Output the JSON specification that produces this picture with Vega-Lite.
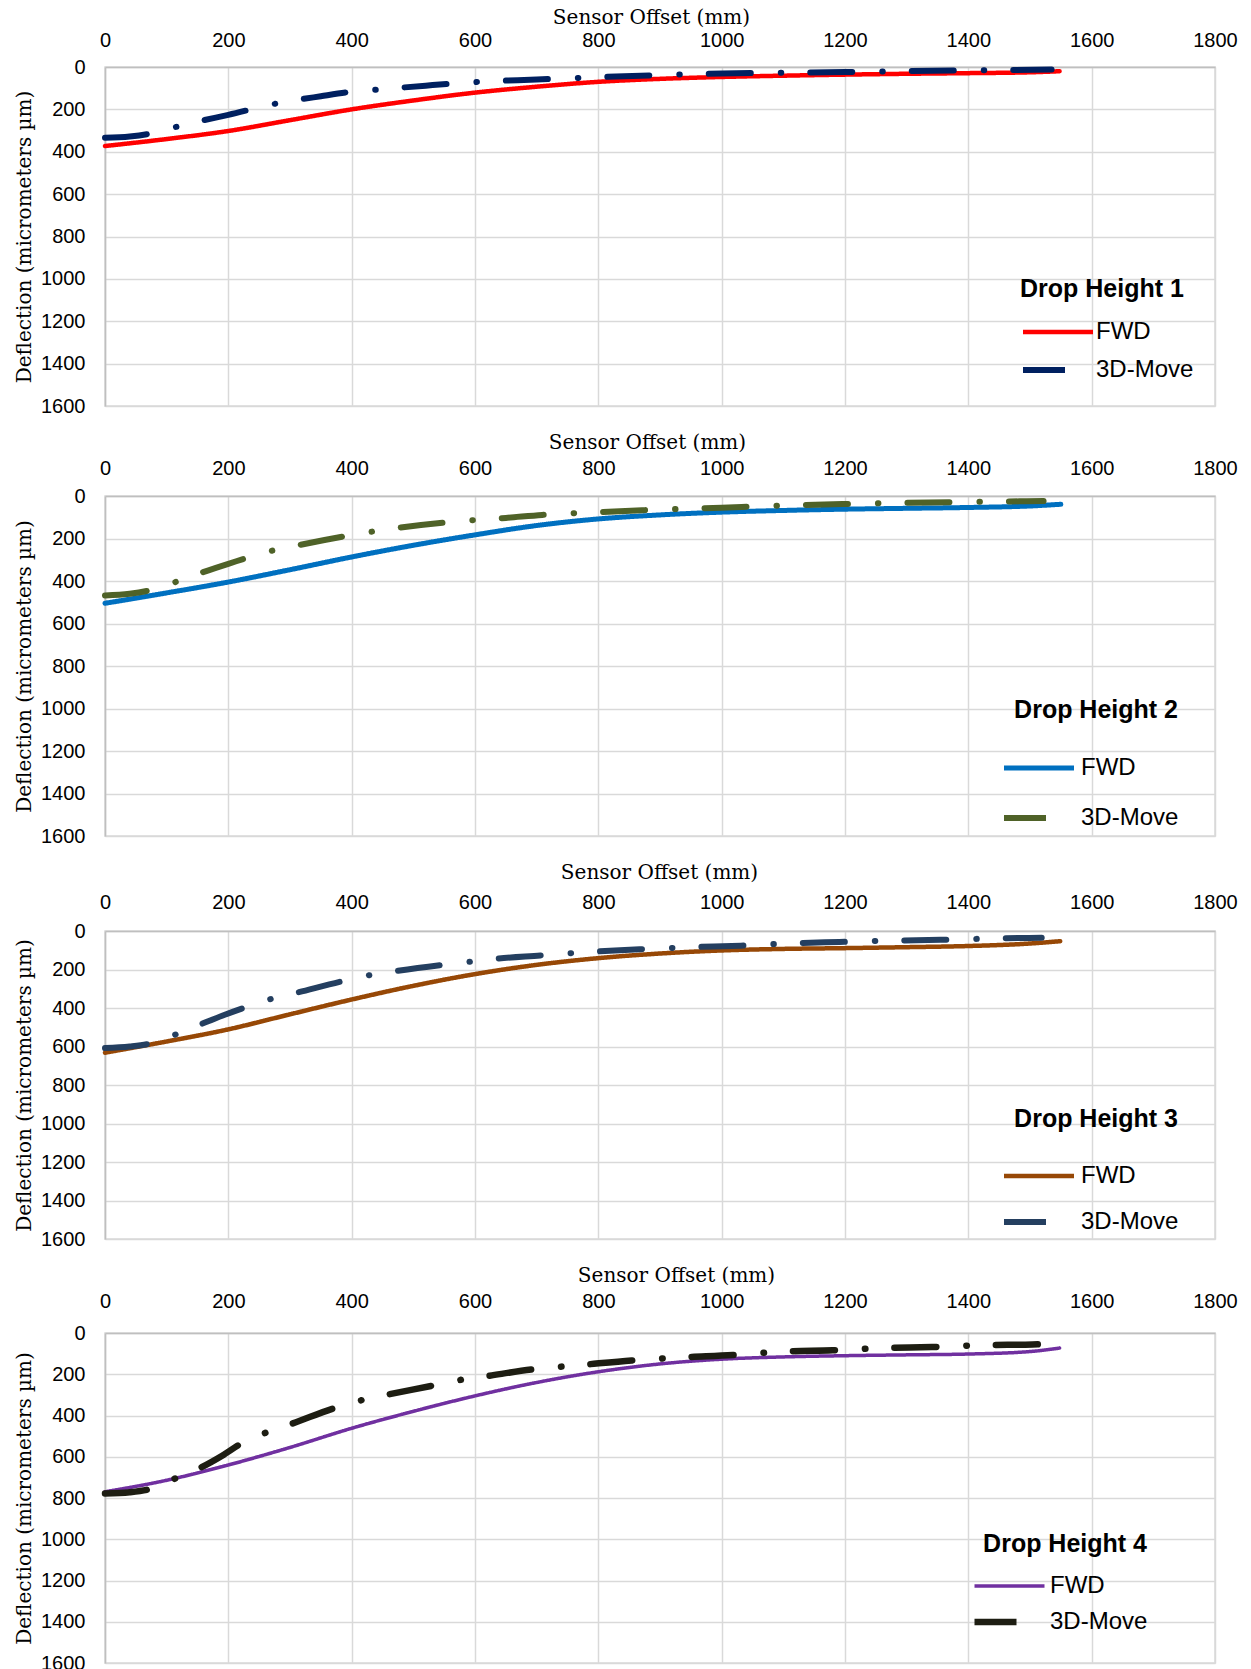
{
  "$schema": "https://vega.github.io/schema/vega-lite/v6.json",
  "background": "white",
  "padding": {"left": 13, "top": 6, "right": 5, "bottom": 0},
  "spacing": 14,
  "datasets": {
    "d": [
      {"panel": 1, "series": "FWD", "offset": 0, "deflection": 373},
      {"panel": 1, "series": "FWD", "offset": 100, "deflection": 340},
      {"panel": 1, "series": "FWD", "offset": 200, "deflection": 302},
      {"panel": 1, "series": "FWD", "offset": 300, "deflection": 251},
      {"panel": 1, "series": "FWD", "offset": 400, "deflection": 200},
      {"panel": 1, "series": "FWD", "offset": 500, "deflection": 158},
      {"panel": 1, "series": "FWD", "offset": 600, "deflection": 121},
      {"panel": 1, "series": "FWD", "offset": 700, "deflection": 93},
      {"panel": 1, "series": "FWD", "offset": 800, "deflection": 70},
      {"panel": 1, "series": "FWD", "offset": 900, "deflection": 56},
      {"panel": 1, "series": "FWD", "offset": 1000, "deflection": 47},
      {"panel": 1, "series": "FWD", "offset": 1100, "deflection": 41},
      {"panel": 1, "series": "FWD", "offset": 1200, "deflection": 36},
      {"panel": 1, "series": "FWD", "offset": 1300, "deflection": 32},
      {"panel": 1, "series": "FWD", "offset": 1400, "deflection": 29},
      {"panel": 1, "series": "FWD", "offset": 1500, "deflection": 25},
      {"panel": 1, "series": "FWD", "offset": 1548, "deflection": 20},
      {"panel": 1, "series": "3D-Move", "offset": 0, "deflection": 334},
      {"panel": 1, "series": "3D-Move", "offset": 40, "deflection": 328},
      {"panel": 1, "series": "3D-Move", "offset": 70, "deflection": 316},
      {"panel": 1, "series": "3D-Move", "offset": 100, "deflection": 294},
      {"panel": 1, "series": "3D-Move", "offset": 150, "deflection": 258},
      {"panel": 1, "series": "3D-Move", "offset": 200, "deflection": 226},
      {"panel": 1, "series": "3D-Move", "offset": 275, "deflection": 174},
      {"panel": 1, "series": "3D-Move", "offset": 350, "deflection": 138},
      {"panel": 1, "series": "3D-Move", "offset": 400, "deflection": 117},
      {"panel": 1, "series": "3D-Move", "offset": 450, "deflection": 105},
      {"panel": 1, "series": "3D-Move", "offset": 520, "deflection": 88},
      {"panel": 1, "series": "3D-Move", "offset": 600, "deflection": 71},
      {"panel": 1, "series": "3D-Move", "offset": 700, "deflection": 59},
      {"panel": 1, "series": "3D-Move", "offset": 800, "deflection": 48},
      {"panel": 1, "series": "3D-Move", "offset": 900, "deflection": 38},
      {"panel": 1, "series": "3D-Move", "offset": 1000, "deflection": 31},
      {"panel": 1, "series": "3D-Move", "offset": 1100, "deflection": 27},
      {"panel": 1, "series": "3D-Move", "offset": 1200, "deflection": 24},
      {"panel": 1, "series": "3D-Move", "offset": 1300, "deflection": 19},
      {"panel": 1, "series": "3D-Move", "offset": 1400, "deflection": 16},
      {"panel": 1, "series": "3D-Move", "offset": 1535, "deflection": 12},

      {"panel": 2, "series": "FWD", "offset": 0, "deflection": 505},
      {"panel": 2, "series": "FWD", "offset": 100, "deflection": 456},
      {"panel": 2, "series": "FWD", "offset": 200, "deflection": 405},
      {"panel": 2, "series": "FWD", "offset": 300, "deflection": 347},
      {"panel": 2, "series": "FWD", "offset": 400, "deflection": 287},
      {"panel": 2, "series": "FWD", "offset": 500, "deflection": 232},
      {"panel": 2, "series": "FWD", "offset": 600, "deflection": 183},
      {"panel": 2, "series": "FWD", "offset": 700, "deflection": 139},
      {"panel": 2, "series": "FWD", "offset": 800, "deflection": 108},
      {"panel": 2, "series": "FWD", "offset": 900, "deflection": 89},
      {"panel": 2, "series": "FWD", "offset": 1000, "deflection": 76},
      {"panel": 2, "series": "FWD", "offset": 1100, "deflection": 68},
      {"panel": 2, "series": "FWD", "offset": 1200, "deflection": 62},
      {"panel": 2, "series": "FWD", "offset": 1300, "deflection": 58},
      {"panel": 2, "series": "FWD", "offset": 1400, "deflection": 54},
      {"panel": 2, "series": "FWD", "offset": 1500, "deflection": 47},
      {"panel": 2, "series": "FWD", "offset": 1550, "deflection": 39},
      {"panel": 2, "series": "3D-Move", "offset": 0, "deflection": 468},
      {"panel": 2, "series": "3D-Move", "offset": 40, "deflection": 460},
      {"panel": 2, "series": "3D-Move", "offset": 75, "deflection": 442},
      {"panel": 2, "series": "3D-Move", "offset": 114, "deflection": 405},
      {"panel": 2, "series": "3D-Move", "offset": 155, "deflection": 362},
      {"panel": 2, "series": "3D-Move", "offset": 200, "deflection": 319},
      {"panel": 2, "series": "3D-Move", "offset": 270, "deflection": 258},
      {"panel": 2, "series": "3D-Move", "offset": 311, "deflection": 233},
      {"panel": 2, "series": "3D-Move", "offset": 388, "deflection": 190},
      {"panel": 2, "series": "3D-Move", "offset": 428, "deflection": 170},
      {"panel": 2, "series": "3D-Move", "offset": 472, "deflection": 151},
      {"panel": 2, "series": "3D-Move", "offset": 549, "deflection": 125},
      {"panel": 2, "series": "3D-Move", "offset": 591, "deflection": 115},
      {"panel": 2, "series": "3D-Move", "offset": 650, "deflection": 103},
      {"panel": 2, "series": "3D-Move", "offset": 709, "deflection": 89},
      {"panel": 2, "series": "3D-Move", "offset": 800, "deflection": 76},
      {"panel": 2, "series": "3D-Move", "offset": 871, "deflection": 67},
      {"panel": 2, "series": "3D-Move", "offset": 1000, "deflection": 55},
      {"panel": 2, "series": "3D-Move", "offset": 1076, "deflection": 47},
      {"panel": 2, "series": "3D-Move", "offset": 1196, "deflection": 38},
      {"panel": 2, "series": "3D-Move", "offset": 1280, "deflection": 33},
      {"panel": 2, "series": "3D-Move", "offset": 1400, "deflection": 28},
      {"panel": 2, "series": "3D-Move", "offset": 1522, "deflection": 24},

      {"panel": 3, "series": "FWD", "offset": 0, "deflection": 632},
      {"panel": 3, "series": "FWD", "offset": 100, "deflection": 574},
      {"panel": 3, "series": "FWD", "offset": 200, "deflection": 511},
      {"panel": 3, "series": "FWD", "offset": 300, "deflection": 433},
      {"panel": 3, "series": "FWD", "offset": 400, "deflection": 356},
      {"panel": 3, "series": "FWD", "offset": 500, "deflection": 285},
      {"panel": 3, "series": "FWD", "offset": 600, "deflection": 224},
      {"panel": 3, "series": "FWD", "offset": 700, "deflection": 176},
      {"panel": 3, "series": "FWD", "offset": 800, "deflection": 141},
      {"panel": 3, "series": "FWD", "offset": 900, "deflection": 117},
      {"panel": 3, "series": "FWD", "offset": 1000, "deflection": 101},
      {"panel": 3, "series": "FWD", "offset": 1100, "deflection": 93},
      {"panel": 3, "series": "FWD", "offset": 1200, "deflection": 89},
      {"panel": 3, "series": "FWD", "offset": 1300, "deflection": 84},
      {"panel": 3, "series": "FWD", "offset": 1400, "deflection": 78},
      {"panel": 3, "series": "FWD", "offset": 1500, "deflection": 65},
      {"panel": 3, "series": "FWD", "offset": 1549, "deflection": 53},
      {"panel": 3, "series": "3D-Move", "offset": 0, "deflection": 608},
      {"panel": 3, "series": "3D-Move", "offset": 40, "deflection": 600},
      {"panel": 3, "series": "3D-Move", "offset": 77, "deflection": 582},
      {"panel": 3, "series": "3D-Move", "offset": 115, "deflection": 537},
      {"panel": 3, "series": "3D-Move", "offset": 155, "deflection": 485},
      {"panel": 3, "series": "3D-Move", "offset": 190, "deflection": 440},
      {"panel": 3, "series": "3D-Move", "offset": 228, "deflection": 396},
      {"panel": 3, "series": "3D-Move", "offset": 268, "deflection": 354},
      {"panel": 3, "series": "3D-Move", "offset": 309, "deflection": 322},
      {"panel": 3, "series": "3D-Move", "offset": 386, "deflection": 260},
      {"panel": 3, "series": "3D-Move", "offset": 425, "deflection": 232},
      {"panel": 3, "series": "3D-Move", "offset": 468, "deflection": 210},
      {"panel": 3, "series": "3D-Move", "offset": 545, "deflection": 177},
      {"panel": 3, "series": "3D-Move", "offset": 586, "deflection": 162},
      {"panel": 3, "series": "3D-Move", "offset": 627, "deflection": 146},
      {"panel": 3, "series": "3D-Move", "offset": 706, "deflection": 127},
      {"panel": 3, "series": "3D-Move", "offset": 789, "deflection": 108},
      {"panel": 3, "series": "3D-Move", "offset": 867, "deflection": 95},
      {"panel": 3, "series": "3D-Move", "offset": 951, "deflection": 84},
      {"panel": 3, "series": "3D-Move", "offset": 1031, "deflection": 76},
      {"panel": 3, "series": "3D-Move", "offset": 1112, "deflection": 64},
      {"panel": 3, "series": "3D-Move", "offset": 1191, "deflection": 57},
      {"panel": 3, "series": "3D-Move", "offset": 1276, "deflection": 50},
      {"panel": 3, "series": "3D-Move", "offset": 1355, "deflection": 46},
      {"panel": 3, "series": "3D-Move", "offset": 1437, "deflection": 39},
      {"panel": 3, "series": "3D-Move", "offset": 1519, "deflection": 35},

      {"panel": 4, "series": "FWD", "offset": 0, "deflection": 770},
      {"panel": 4, "series": "FWD", "offset": 100, "deflection": 714},
      {"panel": 4, "series": "FWD", "offset": 200, "deflection": 640},
      {"panel": 4, "series": "FWD", "offset": 300, "deflection": 555},
      {"panel": 4, "series": "FWD", "offset": 400, "deflection": 462},
      {"panel": 4, "series": "FWD", "offset": 500, "deflection": 380},
      {"panel": 4, "series": "FWD", "offset": 600, "deflection": 305},
      {"panel": 4, "series": "FWD", "offset": 700, "deflection": 240},
      {"panel": 4, "series": "FWD", "offset": 800, "deflection": 188},
      {"panel": 4, "series": "FWD", "offset": 900, "deflection": 150},
      {"panel": 4, "series": "FWD", "offset": 1000, "deflection": 127},
      {"panel": 4, "series": "FWD", "offset": 1100, "deflection": 116},
      {"panel": 4, "series": "FWD", "offset": 1200, "deflection": 110},
      {"panel": 4, "series": "FWD", "offset": 1300, "deflection": 106},
      {"panel": 4, "series": "FWD", "offset": 1400, "deflection": 102},
      {"panel": 4, "series": "FWD", "offset": 1500, "deflection": 90},
      {"panel": 4, "series": "FWD", "offset": 1548, "deflection": 73},
      {"panel": 4, "series": "3D-Move", "offset": 0, "deflection": 778},
      {"panel": 4, "series": "3D-Move", "offset": 40, "deflection": 772},
      {"panel": 4, "series": "3D-Move", "offset": 78, "deflection": 753},
      {"panel": 4, "series": "3D-Move", "offset": 115, "deflection": 704},
      {"panel": 4, "series": "3D-Move", "offset": 155, "deflection": 653},
      {"panel": 4, "series": "3D-Move", "offset": 190, "deflection": 595},
      {"panel": 4, "series": "3D-Move", "offset": 222, "deflection": 534},
      {"panel": 4, "series": "3D-Move", "offset": 262, "deflection": 482},
      {"panel": 4, "series": "3D-Move", "offset": 303, "deflection": 440},
      {"panel": 4, "series": "3D-Move", "offset": 372, "deflection": 364},
      {"panel": 4, "series": "3D-Move", "offset": 413, "deflection": 328},
      {"panel": 4, "series": "3D-Move", "offset": 456, "deflection": 300},
      {"panel": 4, "series": "3D-Move", "offset": 533, "deflection": 254},
      {"panel": 4, "series": "3D-Move", "offset": 573, "deflection": 229},
      {"panel": 4, "series": "3D-Move", "offset": 615, "deflection": 211},
      {"panel": 4, "series": "3D-Move", "offset": 692, "deflection": 177},
      {"panel": 4, "series": "3D-Move", "offset": 776, "deflection": 154},
      {"panel": 4, "series": "3D-Move", "offset": 854, "deflection": 133},
      {"panel": 4, "series": "3D-Move", "offset": 938, "deflection": 118},
      {"panel": 4, "series": "3D-Move", "offset": 1018, "deflection": 107},
      {"panel": 4, "series": "3D-Move", "offset": 1101, "deflection": 90},
      {"panel": 4, "series": "3D-Move", "offset": 1180, "deflection": 84},
      {"panel": 4, "series": "3D-Move", "offset": 1262, "deflection": 73},
      {"panel": 4, "series": "3D-Move", "offset": 1341, "deflection": 68},
      {"panel": 4, "series": "3D-Move", "offset": 1425, "deflection": 59},
      {"panel": 4, "series": "3D-Move", "offset": 1504, "deflection": 56},
      {"panel": 4, "series": "3D-Move", "offset": 1545, "deflection": 49}
    ]
  },
  "vconcat": [
    {
      "width": 1110, "height": 339,
      "data": {"name": "d"},
      "transform": [{"filter": "datum.panel == 1"}],
      "mark": {"type": "line", "interpolate": "monotone", "strokeCap": "round", "strokeJoin": "round"},
      "encoding": {
        "x": {"field": "offset", "type": "quantitative", "scale": {"domain": [0, 1800], "nice": false},
              "axis": {"orient": "top", "title": "Sensor Offset (mm)", "values": [0,200,400,600,800,1000,1200,1400,1600,1800], "titleX": 546, "labelPadding": 17, "titlePadding": 3}},
        "y": {"field": "deflection", "type": "quantitative", "scale": {"domain": [0, 1600], "reverse": true, "nice": false},
              "axis": {"title": "Deflection (micrometers µm)", "values": [0,200,400,600,800,1000,1200,1400,1600]}},
        "color": {"field": "series", "type": "nominal", "scale": {"domain": ["FWD", "3D-Move"], "range": ["#ff0000", "#002060"]},
                  "legend": {"title": "Drop Height 1", "orient": "none", "legendX": 915, "legendY": 210, "titlePadding": 18, "rowPadding": 14, "labelOffset": 0}},
        "strokeDash": {"field": "series", "type": "nominal", "scale": {"domain": ["FWD", "3D-Move"], "range": [[1, 0], [42, 30, 0.5, 29]]},
                  "legend": {"title": "Drop Height 1", "orient": "none", "legendX": 915, "legendY": 210, "titlePadding": 18, "rowPadding": 14, "labelOffset": 0}},
        "strokeWidth": {"field": "series", "type": "nominal", "scale": {"domain": ["FWD", "3D-Move"], "range": [4.5, 6]},
                  "legend": {"title": "Drop Height 1", "orient": "none", "legendX": 915, "legendY": 210, "titlePadding": 18, "rowPadding": 14, "labelOffset": 0}}
      }
    },
    {
      "width": 1110, "height": 340,
      "data": {"name": "d"},
      "transform": [{"filter": "datum.panel == 2"}],
      "mark": {"type": "line", "interpolate": "monotone", "strokeCap": "round", "strokeJoin": "round"},
      "encoding": {
        "x": {"field": "offset", "type": "quantitative", "scale": {"domain": [0, 1800], "nice": false},
              "axis": {"orient": "top", "title": "Sensor Offset (mm)", "values": [0,200,400,600,800,1000,1200,1400,1600,1800], "titleX": 542, "labelPadding": 18, "titlePadding": 6}},
        "y": {"field": "deflection", "type": "quantitative", "scale": {"domain": [0, 1600], "reverse": true, "nice": false},
              "axis": {"title": "Deflection (micrometers µm)", "values": [0,200,400,600,800,1000,1200,1400,1600]}},
        "color": {"field": "series", "type": "nominal", "scale": {"domain": ["FWD", "3D-Move"], "range": ["#0070c0", "#4f6228"]},
                  "legend": {"title": "Drop Height 2", "titleAnchor": "end", "orient": "none", "legendX": 896, "legendY": 202, "titlePadding": 33, "rowPadding": 26, "labelOffset": 4}},
        "strokeDash": {"field": "series", "type": "nominal", "scale": {"domain": ["FWD", "3D-Move"], "range": [[1, 0], [42, 30, 0.5, 29]]},
                  "legend": {"title": "Drop Height 2", "titleAnchor": "end", "orient": "none", "legendX": 896, "legendY": 202, "titlePadding": 33, "rowPadding": 26, "labelOffset": 4}},
        "strokeWidth": {"field": "series", "type": "nominal", "scale": {"domain": ["FWD", "3D-Move"], "range": [5, 6]},
                  "legend": {"title": "Drop Height 2", "titleAnchor": "end", "orient": "none", "legendX": 896, "legendY": 202, "titlePadding": 33, "rowPadding": 26, "labelOffset": 4}}
      }
    },
    {
      "width": 1110, "height": 308,
      "data": {"name": "d"},
      "transform": [{"filter": "datum.panel == 3"}],
      "mark": {"type": "line", "interpolate": "monotone", "strokeCap": "round", "strokeJoin": "round"},
      "encoding": {
        "x": {"field": "offset", "type": "quantitative", "scale": {"domain": [0, 1800], "nice": false},
              "axis": {"orient": "top", "title": "Sensor Offset (mm)", "values": [0,200,400,600,800,1000,1200,1400,1600,1800], "titleX": 554, "labelPadding": 19, "titlePadding": 10}},
        "y": {"field": "deflection", "type": "quantitative", "scale": {"domain": [0, 1600], "reverse": true, "nice": false},
              "axis": {"title": "Deflection (micrometers µm)", "values": [0,200,400,600,800,1000,1200,1400,1600]}},
        "color": {"field": "series", "type": "nominal", "scale": {"domain": ["FWD", "3D-Move"], "range": ["#974806", "#243f60"]},
                  "legend": {"title": "Drop Height 3", "titleAnchor": "end", "orient": "none", "legendX": 896, "legendY": 176, "titlePadding": 32, "rowPadding": 22, "labelOffset": 4}},
        "strokeDash": {"field": "series", "type": "nominal", "scale": {"domain": ["FWD", "3D-Move"], "range": [[1, 0], [42, 30, 0.5, 29]]},
                  "legend": {"title": "Drop Height 3", "titleAnchor": "end", "orient": "none", "legendX": 896, "legendY": 176, "titlePadding": 32, "rowPadding": 22, "labelOffset": 4}},
        "strokeWidth": {"field": "series", "type": "nominal", "scale": {"domain": ["FWD", "3D-Move"], "range": [4.5, 6]},
                  "legend": {"title": "Drop Height 3", "titleAnchor": "end", "orient": "none", "legendX": 896, "legendY": 176, "titlePadding": 32, "rowPadding": 22, "labelOffset": 4}}
      }
    },
    {
      "width": 1110, "height": 330,
      "data": {"name": "d"},
      "transform": [{"filter": "datum.panel == 4"}],
      "mark": {"type": "line", "interpolate": "monotone", "strokeCap": "round", "strokeJoin": "round"},
      "encoding": {
        "x": {"field": "offset", "type": "quantitative", "scale": {"domain": [0, 1800], "nice": false},
              "axis": {"orient": "top", "title": "Sensor Offset (mm)", "values": [0,200,400,600,800,1000,1200,1400,1600,1800], "titleX": 571, "labelPadding": 22, "titlePadding": 6}},
        "y": {"field": "deflection", "type": "quantitative", "scale": {"domain": [0, 1600], "reverse": true, "nice": false},
              "axis": {"title": "Deflection (micrometers µm)", "values": [0,200,400,600,800,1000,1200,1400,1600]}},
        "color": {"field": "series", "type": "nominal", "scale": {"domain": ["FWD", "3D-Move"], "range": ["#7030a0", "#1d1d12"]},
                  "legend": {"title": "Drop Height 4", "titleAnchor": "end", "orient": "none", "legendX": 866, "legendY": 199, "titlePadding": 17, "rowPadding": 12, "labelOffset": 2}},
        "strokeDash": {"field": "series", "type": "nominal", "scale": {"domain": ["FWD", "3D-Move"], "range": [[1, 0], [42, 30, 0.5, 29]]},
                  "legend": {"title": "Drop Height 4", "titleAnchor": "end", "orient": "none", "legendX": 866, "legendY": 199, "titlePadding": 17, "rowPadding": 12, "labelOffset": 2}},
        "strokeWidth": {"field": "series", "type": "nominal", "scale": {"domain": ["FWD", "3D-Move"], "range": [3.5, 6.5]},
                  "legend": {"title": "Drop Height 4", "titleAnchor": "end", "orient": "none", "legendX": 866, "legendY": 199, "titlePadding": 17, "rowPadding": 12, "labelOffset": 2}}
      }
    }
  ],
  "resolve": {
    "scale": {"color": "independent", "strokeDash": "independent", "strokeWidth": "independent"},
    "legend": {"color": "independent", "strokeDash": "independent", "strokeWidth": "independent"}
  },
  "config": {
    "view": {"stroke": "#d9d9d9", "strokeWidth": 1.5},
    "axis": {
      "grid": true, "gridColor": "#d9d9d9", "gridWidth": 1.5,
      "domainColor": "#bfbfbf", "domainWidth": 1.5,
      "ticks": false, "tickSize": 0, "format": "d",
      "labelFont": "Liberation Sans", "labelFontSize": 20, "labelColor": "#000000",
      "titleFont": "DejaVu Serif", "titleFontSize": 20, "titleFontWeight": "normal", "titleColor": "#000000"
    },
    "axisX": {"labelFlush": false, "labelOverlap": false},
    "axisY": {"labelPadding": 20, "titlePadding": 6, "labelOverlap": false},
    "legend": {
      "padding": 0, "symbolType": "stroke", "symbolSize": 4900, "clipHeight": 24,
      "titleFont": "Liberation Sans", "titleFontSize": 25, "titleFontWeight": "bold", "titleColor": "#000000",
      "labelFont": "Liberation Sans", "labelFontSize": 24, "labelColor": "#000000", "labelLimit": 300, "titleLimit": 400
    }
  }
}
